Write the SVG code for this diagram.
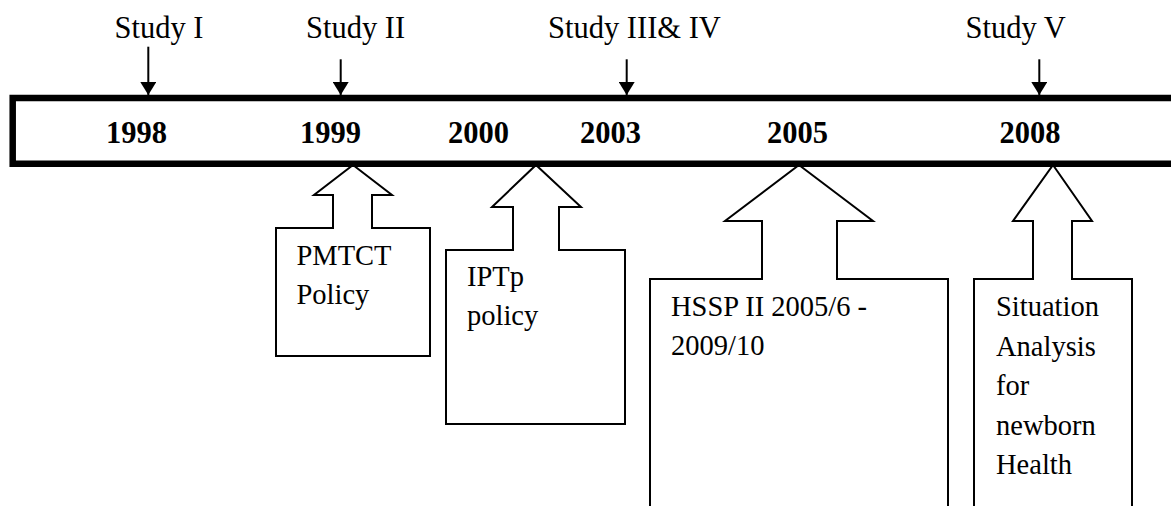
<svg xmlns="http://www.w3.org/2000/svg" width="1171" height="506" viewBox="0 0 1171 506">
<style>
  .top { font-family: "Liberation Serif", "Times New Roman", serif; font-size: 30.5px; fill: #000; }
  .year { font-family: "Liberation Serif", "Times New Roman", serif; font-size: 30.5px; font-weight: bold; fill: #000; }
  .body { font-family: "Liberation Serif", "Times New Roman", serif; font-size: 28.5px; fill: #000; }
  .callout { fill: #fff; stroke: #000; stroke-width: 2; stroke-linejoin: miter; }
  .bar { fill: none; stroke: #000; stroke-width: 6.5; }
  .conn { stroke: #000; stroke-width: 2; fill: none; }
</style>
<defs>
  <marker id="ah" markerUnits="userSpaceOnUse" viewBox="0 0 13 16" refX="13" refY="8" markerWidth="13" markerHeight="16" orient="auto">
    <path d="M0,0 L13,8 L0,16 z" fill="#000"/>
  </marker>
</defs>
<rect width="1171" height="506" fill="#fff"/>

<g id="callout-pmtct">
  <polygon class="callout" points="353,165 392,195 372,195 372,228 430,228 430,356 276,356 276,228 333,228 333,195 314,195"/>
  <text class="body" x="296.5" y="264.5">PMTCT</text>
  <text class="body" x="296.5" y="303.5">Policy</text>
</g>
<g id="callout-iptp">
  <polygon class="callout" points="536,165 581,207 559,207 559,250 625,250 625,424 446,424 446,250 513,250 513,207 492,207"/>
  <text class="body" x="467" y="286">IPTp</text>
  <text class="body" x="467" y="325">policy</text>
</g>
<g id="callout-hssp">
  <polygon class="callout" points="799,165 873,221 837,221 837,279 948,279 948,515 650,515 650,279 762,279 762,221 725,221"/>
  <text class="body" x="671" y="316">HSSP II 2005/6 -</text>
  <text class="body" x="671" y="355">2009/10</text>
</g>
<g id="callout-situation">
  <polygon class="callout" points="1053,165 1092,221 1072,221 1072,279 1132,279 1132,515 974,515 974,279 1033,279 1033,221 1013,221"/>
  <text class="body" x="996" y="316">Situation</text>
  <text class="body" x="996" y="355.5">Analysis</text>
  <text class="body" x="996" y="395">for</text>
  <text class="body" x="996" y="434.5">newborn</text>
  <text class="body" x="996" y="474">Health</text>
</g>

<g id="timeline">
  <path class="bar" d="M1180,98 H12.7 V163.7 H1180"/>
  <text class="year" x="106" y="142.5">1998</text>
  <text class="year" x="300" y="142.5">1999</text>
  <text class="year" x="448" y="142.5">2000</text>
  <text class="year" x="580" y="142.5">2003</text>
  <text class="year" x="767" y="142.5">2005</text>
  <text class="year" x="999.5" y="142.5">2008</text>
</g>

<g id="study-1"><text class="top" x="114.5" y="37.5">Study I</text></g>
<g id="study-2"><text class="top" x="306" y="37.5">Study II</text></g>
<g id="study-3-4"><text class="top" x="548" y="37.5">Study III&amp; IV</text></g>
<g id="study-5"><text class="top" x="965.5" y="37.5">Study V</text></g>

<g id="connectors">
  <line class="conn" x1="148.3" y1="46.7" x2="148.3" y2="95" marker-end="url(#ah)"/>
  <line class="conn" x1="340.7" y1="59.3" x2="340.7" y2="95" marker-end="url(#ah)"/>
  <line class="conn" x1="626.7" y1="59.3" x2="626.7" y2="95" marker-end="url(#ah)"/>
  <line class="conn" x1="1039.3" y1="59.3" x2="1039.3" y2="95" marker-end="url(#ah)"/>
</g>
</svg>
